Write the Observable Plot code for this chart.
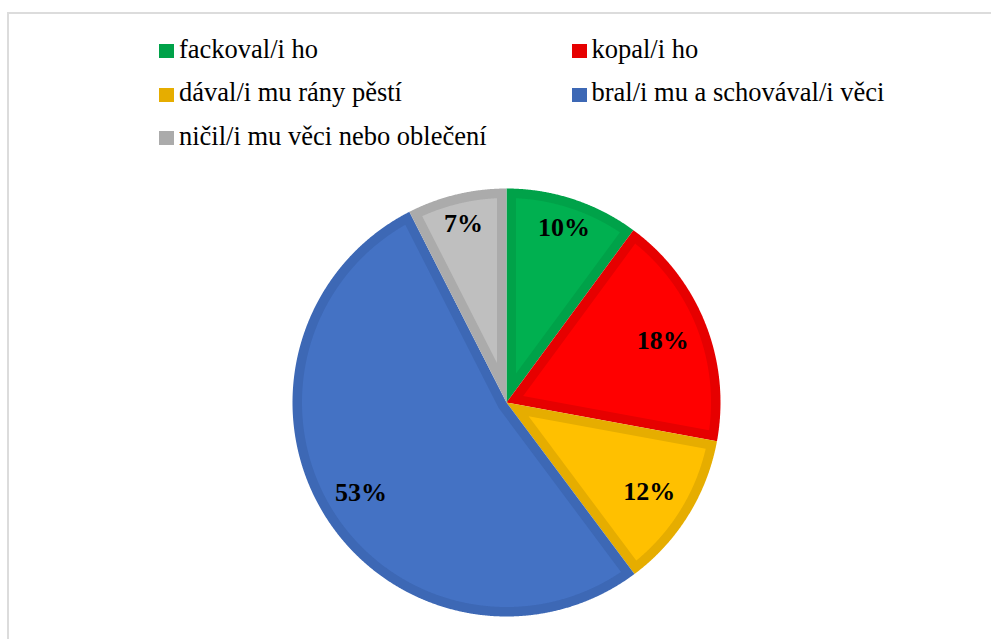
<!DOCTYPE html>
<html>
<head>
<meta charset="utf-8">
<script src="https://cdn.jsdelivr.net/npm/d3@7"></script>
<script src="https://cdn.jsdelivr.net/npm/@observablehq/plot@0.6"></script>
<style>
  html, body { margin: 0; padding: 0; background: #fff; }
  #wrap { position: relative; width: 991px; height: 639px; overflow: hidden; background: #fff; }
  #frame { position: absolute; left: 7px; top: 12px; width: 1000px; height: 700px;
           border-top: 2px solid #dcdcdc; border-left: 2px solid #dcdcdc; box-sizing: border-box; }
  #chart { position: absolute; left: 0; top: 0; }
  .lg-sq { position: absolute; width: 15px; height: 14px; }
  .lg-tx { position: absolute; font-family: "Liberation Serif", "Times New Roman", serif;
           font-size: 26.5px; line-height: 1; white-space: nowrap; color: #000; }
</style>
</head>
<body>
<div id="wrap">
  <div id="frame"></div>
  <div id="chart"></div>
  <div id="legend"></div>
</div>
<script>
// ---- data ----
const categories = [
  "fackoval/i ho",
  "kopal/i ho",
  "dával/i mu rány pěstí",
  "bral/i mu a schovával/i věci",
  "ničil/i mu věci nebo oblečení"
];
const shares = [10.1, 17.8, 11.9, 52.7, 7.5];
const pctLabels = ["10%", "18%", "12%", "53%", "7%"];
const fillColors = ["#00B050", "#FF0000", "#FFC000", "#4472C4", "#BFBFBF"];
const borderColors = ["#00A249", "#E60000", "#E6AD00", "#3D68B5", "#ABABAB"];

// ---- layout ----
const W = 991, H = 639;
const cx = 506, cy = 402, R = 214;
const inset = 9.5 / R;

const total = d3.sum(shares);
const pt = (r, a) => [r * Math.sin(a), r * Math.cos(a)];
function arc(r, a0, a1, step = 0.004) {
  const n = Math.max(2, Math.ceil(Math.abs(a1 - a0) / step));
  const out = [];
  for (let i = 0; i <= n; i++) out.push(pt(r, a0 + (a1 - a0) * i / n));
  return out;
}

const polys = [];
const labelRows = [];
let cum = 0;
categories.forEach((c, i) => {
  const a0 = 2 * Math.PI * cum / total;
  cum += shares[i];
  const a1 = 2 * Math.PI * cum / total;
  const th = a1 - a0;
  // outer (border-coloured) wedge
  const outer = [[0, 0], ...arc(1, a0, a1)];
  outer.forEach(([x, y], k) => polys.push({key: c + "|b", part: c + "|b", order: k, x, y}));
  // inner (fill-coloured) inset wedge
  const rr = 1 - inset;
  const dl = Math.asin(inset / rr);
  let inner = arc(rr, a0 + dl, a1 - dl);
  if (th < Math.PI) {
    inner.push(pt(inset / Math.sin(th / 2), a0 + th / 2));
  } else {
    inner = inner.concat(arc(inset, a1 - Math.PI / 2, a0 + Math.PI / 2));
  }
  inner.forEach(([x, y], k) => polys.push({key: c, part: c, order: k, x, y}));
  // best-fit style label placement: narrow slices get labels nearer the rim
  const lr = shares[i] / total < 0.11 ? 0.86 : (shares[i] / total > 0.5 ? 0.8 : 0.785);
  const [lx, ly] = pt(lr, a0 + th / 2);
  labelRows.push({x: lx, y: ly, text: pctLabels[i]});
});

const plot = Plot.plot({
  width: W,
  height: H,
  margin: 0,
  style: {background: "transparent", overflow: "visible"},
  x: {domain: [-1, 1], range: [cx - R, cx + R], axis: null},
  y: {domain: [-1, 1], range: [cy + R, cy - R], axis: null},
  color: {
    type: "ordinal",
    domain: [...categories.map(c => c + "|b"), ...categories],
    range: [...borderColors, ...fillColors],
    legend: false
  },
  marks: [
    Plot.line(polys.filter(d => d.key.endsWith("|b")), {
      x: "x", y: "y", z: "part", fill: "key", stroke: "none", curve: "linear"
    }),
    Plot.line(polys.filter(d => !d.key.endsWith("|b")), {
      x: "x", y: "y", z: "part", fill: "key", stroke: "none", curve: "linear"
    }),
    Plot.text(labelRows, {
      x: "x", y: "y", text: "text",
      fontSize: 26, fontWeight: "bold",
      fontFamily: "Liberation Serif",
      fill: "#000", textAnchor: "middle"
    })
  ]
});
document.getElementById("chart").appendChild(plot);

// ---- legend (HTML above the chart) ----
const legend = document.getElementById("legend");
const colSq = [159, 572], colTx = [179, 591.5];
const baseline0 = 58, rowGap = 43.5;
categories.forEach((c, i) => {
  const row = Math.floor(i / 2), col = i % 2;
  const base = baseline0 + row * rowGap;
  const sq = document.createElement("div");
  sq.className = "lg-sq";
  sq.style.left = colSq[col] + "px";
  sq.style.top = (base - 14) + "px";
  sq.style.background = borderColors[i];
  legend.appendChild(sq);
  const tx = document.createElement("div");
  tx.className = "lg-tx";
  tx.style.left = colTx[col] + "px";
  tx.style.top = (base - 22.2) + "px";
  tx.textContent = c;
  legend.appendChild(tx);
});
</script>
</body>
</html>
